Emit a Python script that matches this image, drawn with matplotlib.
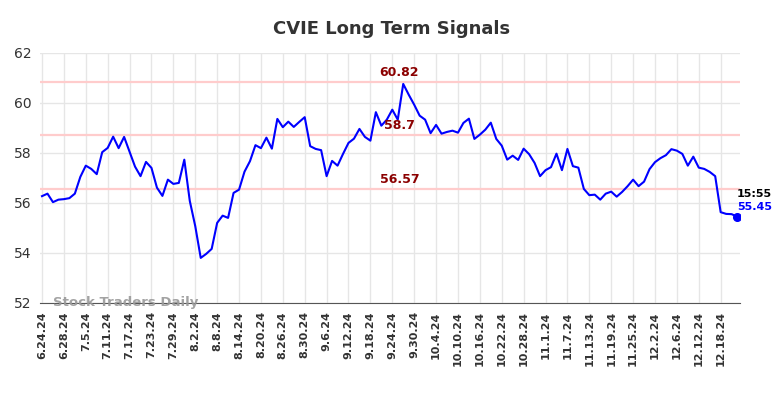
import matplotlib
matplotlib.use("Agg")
import matplotlib.pyplot as plt

TITLE = "CVIE Long Term Signals"

prices = [
    56.27, 56.37, 56.03, 56.13, 56.15, 56.19, 56.37, 57.04, 57.49, 57.36,
    57.15, 58.03, 58.20, 58.65, 58.19, 58.64, 58.05, 57.45, 57.07, 57.64,
    57.40, 56.61, 56.28, 56.93, 56.76, 56.80, 57.73, 56.08, 55.07, 53.80,
    53.96, 54.16, 55.20, 55.49, 55.40, 56.40, 56.53, 57.25, 57.67, 58.31,
    58.19, 58.61, 58.17, 59.36, 59.03, 59.25, 59.04, 59.24, 59.43, 58.27,
    58.16, 58.11, 57.07, 57.68, 57.49, 57.96, 58.40, 58.57, 58.96, 58.64,
    58.49, 59.63, 59.09, 59.33, 59.73, 59.33, 60.76, 60.33, 59.93, 59.49,
    59.33, 58.79, 59.12, 58.77, 58.84, 58.89, 58.81, 59.20, 59.37, 58.56,
    58.73, 58.93, 59.21, 58.56, 58.29, 57.73, 57.89, 57.72, 58.17, 57.95,
    57.60, 57.07, 57.31, 57.43, 57.97, 57.31, 58.16, 57.47, 57.41, 56.56,
    56.31, 56.33, 56.13, 56.37, 56.45, 56.25, 56.44, 56.67, 56.93, 56.67,
    56.85, 57.35, 57.63, 57.79, 57.91, 58.15, 58.09, 57.96, 57.49, 57.85,
    57.41, 57.36, 57.24, 57.07, 55.63, 55.56, 55.55, 55.45,
]

tick_labels = [
    "6.24.24", "6.28.24", "7.5.24", "7.11.24", "7.17.24", "7.23.24", "7.29.24",
    "8.2.24", "8.8.24", "8.14.24", "8.20.24", "8.26.24", "8.30.24", "9.6.24",
    "9.12.24", "9.18.24", "9.24.24", "9.30.24", "10.4.24", "10.10.24",
    "10.16.24", "10.22.24", "10.28.24", "11.1.24", "11.7.24", "11.13.24",
    "11.19.24", "11.25.24", "12.2.24", "12.6.24", "12.12.24", "12.18.24",
]

levels = [60.82, 58.7, 56.57]
last_time = "15:55"

fig = plt.figure(figsize=(7.84, 3.98), dpi=100)
ax = fig.add_axes([0.051, 0.239, 0.893, 0.628])

x = list(range(len(prices)))
ticks = list(range(0, len(prices), 4))[:len(tick_labels)]

ax.set_xlim(-0.37, len(prices) - 0.45)
ax.set_ylim(52, 62)
ax.set_yticks([52, 54, 56, 58, 60, 62])
ax.set_xticks(ticks)
ax.set_xticklabels(tick_labels, rotation=90, fontsize=8, fontweight="bold", color="#333333")
ax.tick_params(axis="y", labelsize=10, colors="#333333", length=0, pad=6)
ax.tick_params(axis="x", length=0, pad=6)
ax.grid(True, color="#e6e6e6", linewidth=1)
ax.set_axisbelow(True)
for s in ["top", "right", "left"]:
    ax.spines[s].set_visible(False)
ax.spines["bottom"].set_color("#555555")

# signal levels
for lv in levels:
    ax.axhline(lv, color="#ffcccc", linewidth=1.6, zorder=1)
    ax.text(65.3, lv + 0.12, f"{lv:g}", color="#8b0000", fontsize=9,
            fontweight="bold", ha="center", va="bottom", zorder=3)

ax.plot(x, prices, color="blue", linewidth=1.5, zorder=2)
ax.plot(x[-1], prices[-1], "o", color="blue", markersize=5.5, zorder=4)

ax.text(x[-1], prices[-1] + 0.9, last_time, fontsize=8, fontweight="bold",
        color="black", ha="left", va="center")
ax.text(x[-1], prices[-1] + 0.38, f"{prices[-1]:.2f}", fontsize=8,
        fontweight="bold", color="blue", ha="left", va="center")

ax.text(2, 52.0, "Stock Traders Daily", fontsize=9.5, fontweight="bold",
        color="#999999", alpha=0.9, ha="left", va="center", zorder=5)

fig.suptitle(TITLE, fontsize=13, fontweight="bold", color="#333333", y=0.95)

fig.savefig("out.png", dpi=100)
